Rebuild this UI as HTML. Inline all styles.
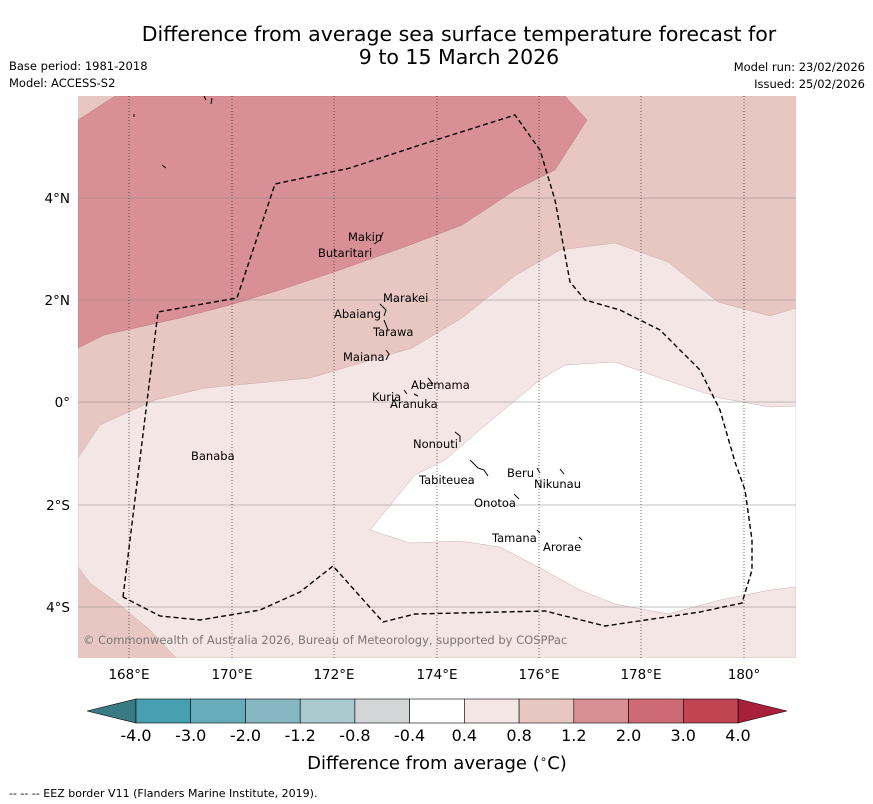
<!DOCTYPE html>
<html><head><meta charset="utf-8"><style>
body{margin:0;background:#fff;width:873px;height:804px;overflow:hidden;font-family:"DejaVu Sans",sans-serif}
svg{position:absolute;left:0;top:0}
</style></head><body>
<svg width="873" height="804" font-family="DejaVu Sans, sans-serif">
<text x="459" y="41" font-size="20.5" text-anchor="middle">Difference from average sea surface temperature forecast for</text>
<text x="459" y="64" font-size="20.5" text-anchor="middle">9 to 15 March 2026</text>
<text x="9" y="70" font-size="11.5">Base period: 1981-2018</text>
<text x="9" y="87" font-size="11.5">Model: ACCESS-S2</text>
<text x="865" y="71" font-size="11.5" text-anchor="end">Model run: 23/02/2026</text>
<text x="865" y="88" font-size="11.5" text-anchor="end">Issued: 25/02/2026</text>
<defs><clipPath id="mc"><rect x="78" y="96" width="718" height="562"/></clipPath></defs>
<g clip-path="url(#mc)">
<rect x="78" y="96" width="718" height="562" fill="#e8c7c3"/>
<polygon fill="#d89096" stroke="#b07078" stroke-width="0.4" points="78,120 115,96 565,96 587,120 555,170 515,190 462,225 410,245 334,272 280,290 230,305 180,318 104,335 78,348"/>
<polygon fill="#f4e6e5" stroke="#c0a0a0" stroke-width="0.4" points="78,458 100,425 155,400 205,388 310,378 412,348 462,318 516,275 560,250 615,243 668,262 718,302 770,316 796,308 796,658 176,658 150,630 120,605 90,583 78,567"/>
<polygon fill="#ffffff" stroke="#c0a0a0" stroke-width="0.4" points="370,530 410,543 460,541 500,547 540,568 580,590 615,604 668,614 720,600 770,590 796,587 796,406 770,407 720,398 660,378 615,362 565,365 540,380 482,428 445,460 415,475"/>
<g stroke="#888" stroke-width="0.6">
<line x1="78" y1="198" x2="796" y2="198"/><line x1="78" y1="300" x2="796" y2="300"/><line x1="78" y1="402" x2="796" y2="402"/><line x1="78" y1="505" x2="796" y2="505"/><line x1="78" y1="607" x2="796" y2="607"/></g>
<g stroke="#333" stroke-width="0.7" stroke-dasharray="1,2">
<line x1="129" y1="96" x2="129" y2="658"/><line x1="232" y1="96" x2="232" y2="658"/><line x1="334" y1="96" x2="334" y2="658"/><line x1="437" y1="96" x2="437" y2="658"/><line x1="539" y1="96" x2="539" y2="658"/><line x1="641" y1="96" x2="641" y2="658"/><line x1="744" y1="96" x2="744" y2="658"/></g>
<polyline fill="none" stroke="#000" stroke-width="1.4" stroke-dasharray="5,3" points="123,597 158,312 237,298 275,184 350,168 420,145 515,115 540,150 555,200 570,282 585,300 620,310 660,330 700,370 720,410 735,462 745,490 752,540 752,570 742,603 700,612 605,626 545,611 415,614 383,622 333,566 300,592 260,610 200,620 160,616 123,597"/>
<g font-size="11.5" fill="#000">
<text x="348" y="241">Makin</text><text x="318" y="257">Butaritari</text><text x="383" y="302">Marakei</text><text x="334" y="318">Abaiang</text><text x="373" y="336">Tarawa</text><text x="343" y="361">Maiana</text><text x="411" y="389">Abemama</text><text x="372" y="401">Kuria</text><text x="390" y="408">Aranuka</text><text x="413" y="448">Nonouti</text><text x="191" y="460">Banaba</text><text x="507" y="477">Beru</text><text x="534" y="488">Nikunau</text><text x="419" y="484">Tabiteuea</text><text x="474" y="507">Onotoa</text><text x="492" y="542">Tamana</text><text x="543" y="551">Arorae</text></g>
<g stroke="#000" stroke-width="1" fill="none">
<path d="M383,232 l-3,8 -6,4"/><path d="M380,304 l6,6 -2,6"/><path d="M384,320 l4,10"/><path d="M386,350 l3,4 -3,6"/><path d="M428,378 l5,6"/><path d="M404,390 l3,4 M414,394 l4,2"/><path d="M455,432 l5,4 0,6"/><path d="M470,460 l8,8 6,2 4,6"/><path d="M537,468 l3,5 M560,469 l4,5"/><path d="M514,494 l5,5"/><path d="M537,530 l3,3 M579,537 l3,3"/><path d="M162,165 l4,3 M134,114 v3 M204,96 l2,4 M212,98 l-1,6"/></g>
<text x="83" y="644" font-size="11.5" fill="#777">© Commonwealth of Australia 2026, Bureau of Meteorology, supported by COSPPac</text>
</g>
<g font-size="13.5" text-anchor="end">
<text x="70" y="203">4°N</text><text x="70" y="305">2°N</text><text x="70" y="407">0°</text><text x="70" y="510">2°S</text><text x="70" y="612">4°S</text></g>
<g font-size="13.5" text-anchor="middle">
<text x="129" y="679">168°E</text><text x="232" y="679">170°E</text><text x="334" y="679">172°E</text><text x="437" y="679">174°E</text><text x="539" y="679">176°E</text><text x="641" y="679">178°E</text><text x="744" y="679">180°</text></g>
<g id="cbar"></g>
<text x="437" y="769" font-size="18" text-anchor="middle">Difference from average (<tspan font-size="12" dy="-6">∘</tspan><tspan dy="6">C)</tspan></text>
<text x="9" y="797" font-size="11">--  --  -- EEZ border V11 (Flanders Marine Institute, 2019).</text>
</svg>
<script>
const cbTicks=["-4.0","-3.0","-2.0","-1.2","-0.8","-0.4","0.4","0.8","1.2","2.0","3.0","4.0"];
const cbColors=["#46a0b0","#68acbb","#87b7c2","#a9c9ce","#d3d6d6","#ffffff","#f4e6e5","#e8c7c3","#d88f96","#cd6a74","#c04452"];
const cbExtend=["#3a7a85","#a8203a"];
const NS="http://www.w3.org/2000/svg";
const g=document.getElementById('cbar');
const x0=136,x1=738,y0=699,h=24,w=(x1-x0)/cbColors.length;
function mk(t,a){const e=document.createElementNS(NS,t);for(const k in a)e.setAttribute(k,a[k]);g.appendChild(e);return e;}
const l=mk('polygon',{points:`87,${y0+h/2} ${x0},${y0} ${x0},${y0+h}`,fill:cbExtend[0],stroke:'#000','stroke-width':0.6});


const r=mk('polygon',{points:`787,${y0+h/2} ${x1},${y0} ${x1},${y0+h}`,fill:cbExtend[1],stroke:'#000','stroke-width':0.6});


cbColors.forEach((c,i)=>{const e=mk('rect',{x:x0+i*w,y:y0,width:w,height:h,fill:c,stroke:'#000','stroke-width':0.6});

});
cbTicks.forEach((t,i)=>{const e=mk('text',{x:x0+i*w,y:741,'font-size':16,'text-anchor':'middle'});e.textContent=t;

});
</script>
</body></html>
